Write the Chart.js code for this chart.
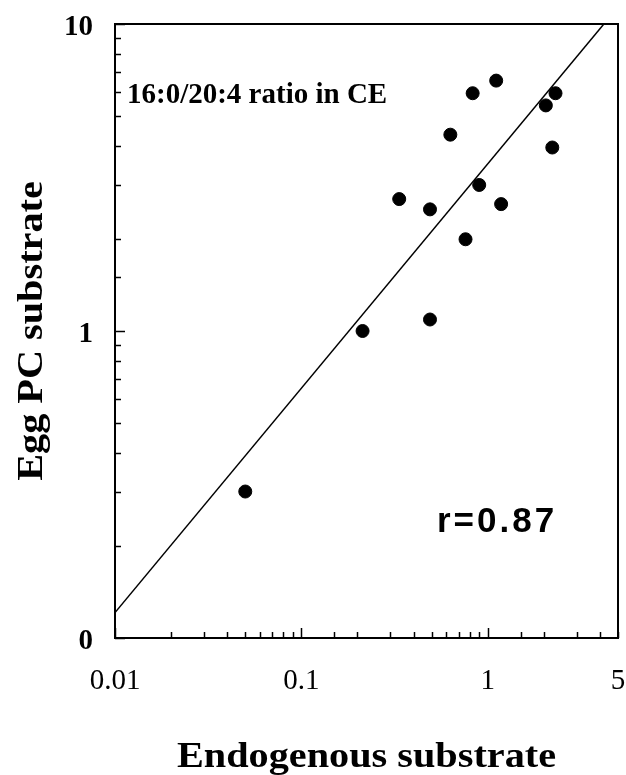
<!DOCTYPE html>
<html>
<head>
<meta charset="utf-8">
<title>Egg PC vs endogenous substrate</title>
<script src="https://cdn.jsdelivr.net/npm/chart.js@4.4.1/dist/chart.umd.min.js"></script>
<style>
  html, body { margin: 0; padding: 0; background: #fff; }
  #wrap { width: 626px; height: 775px; }
</style>
</head>
<body>
<div id="wrap"><canvas id="ratioChart" width="626" height="775"></canvas></div>
<script>
// 16:0/20:4 ratio in CE
const endogenous = [1.11, 0.83, 2.31, 2.05, 0.63, 2.22, 0.90, 0.335, 0.49, 1.18, 0.76, 0.49, 0.213, 0.050];
const eggPC      = [6.54, 5.95, 5.95, 5.43, 4.36, 3.96, 2.99, 2.69, 2.49, 2.59, 1.99, 1.09, 1.00, 0.30];

// regression line end points
const fitX = [0.01, 4.2];
const fitY = [0.121, 10];

const xLabels = { 0.01: '0.01', 0.1: '0.1', 1: '1', 5: '5' };
const yLabels = { 0.1: '0', 1: '1', 10: '10' };

const serif = "'Liberation Serif', 'Times New Roman', serif";

function isDecade(v) {
    const l = Math.log10(v);
    return Math.abs(l - Math.round(l)) < 1e-6;
}

// text in the scan is a bit wide, so stretch it along its run
function wideText(ctx, text, x, y, sx) {
    ctx.save();
    ctx.translate(x, y);
    ctx.scale(sx, 1);
    ctx.fillText(text, 0, 0);
    ctx.restore();
}

// box round the plot and ticks pointing inward
const framePlugin = {
    id: 'frame',
    afterDraw(chart) {
        const { ctx, chartArea: a, scales } = chart;
        ctx.save();
        ctx.strokeStyle = '#000';
        ctx.lineWidth = 1.5;
        scales.x.ticks.forEach(t => {
            const px = Math.round(scales.x.getPixelForValue(t.value)) + 0.5;
            const len = isDecade(t.value) ? 10 : 6;
            ctx.beginPath();
            ctx.moveTo(px, a.bottom);
            ctx.lineTo(px, a.bottom - len);
            ctx.stroke();
        });
        scales.y.ticks.forEach(t => {
            const py = Math.round(scales.y.getPixelForValue(t.value)) + 0.5;
            const len = isDecade(t.value) ? 10 : 6;
            ctx.beginPath();
            ctx.moveTo(a.left, py);
            ctx.lineTo(a.left + len, py);
            ctx.stroke();
        });
        ctx.lineWidth = 2;
        ctx.strokeRect(a.left, a.top, a.right - a.left, a.bottom - a.top);

        // texts
        ctx.fillStyle = '#000';
        ctx.textAlign = 'left';
        ctx.textBaseline = 'alphabetic';
        ctx.font = 'bold 29px ' + serif;
        ctx.fillText('16:0/20:4 ratio in CE', a.left + 12, 103);

        ctx.font = "bold 35px 'Liberation Sans', Arial, sans-serif";
        ctx.letterSpacing = '3px';
        ctx.fillText('r=0.87', 437, 532);
        ctx.letterSpacing = '0px';

        ctx.textAlign = 'center';
        ctx.font = 'bold 35px ' + serif;
        wideText(ctx, 'Endogenous substrate', (a.left + a.right) / 2, 767, 1.15);

        ctx.translate(42, (a.top + a.bottom) / 2);
        ctx.rotate(-Math.PI / 2);
        wideText(ctx, 'Egg PC substrate', 0, 0, 1.15);
        ctx.restore();
    }
};

const ctx = document.getElementById('ratioChart').getContext('2d');

new Chart(ctx, {
    data: {
        datasets: [{
            type: 'scatter',
            label: 'Egg PC substrate',
            data: endogenous.map((x, i) => ({ x: x, y: eggPC[i] })),
            backgroundColor: '#000',
            borderColor: '#000',
            pointRadius: 6.5,
            pointHoverRadius: 6.5
        }, {
            type: 'line',
            label: 'fit',
            data: fitX.map((x, i) => ({ x: x, y: fitY[i] })),
            borderColor: '#000',
            borderWidth: 1.5,
            pointRadius: 0,
            fill: false
        }]
    },
    options: {
        responsive: false,
        animation: false,
        layout: { padding: { top: 24, right: 8, left: 0, bottom: 0 } },
        plugins: {
            legend: { display: false },
            tooltip: { enabled: false }
        },
        scales: {
            x: {
                type: 'logarithmic',
                min: 0.01,
                max: 5,
                grid: { display: false },
                border: { display: false },
                afterFit: scale => {
                    scale.height = 137;
                    scale.paddingLeft = 0;
                    scale.paddingRight = 0;
                },
                ticks: {
                    autoSkip: false,
                    maxRotation: 0,
                    padding: 18,
                    color: '#000',
                    font: { family: serif, size: 29 },
                    callback: v => xLabels[+v.toPrecision(6)] || ''
                }
            },
            y: {
                type: 'logarithmic',
                min: 0.1,
                max: 10,
                grid: { display: false },
                border: { display: false },
                afterFit: scale => {
                    scale.width = 115;
                    scale.paddingTop = 0;
                    scale.paddingBottom = 0;
                },
                ticks: {
                    autoSkip: false,
                    padding: 14,
                    labelOffset: 4,
                    color: '#000',
                    font: { family: serif, size: 29, weight: 'bold' },
                    callback: v => yLabels[+v.toPrecision(6)] || ''
                }
            }
        }
    },
    plugins: [framePlugin]
});
</script>
</body>
</html>
